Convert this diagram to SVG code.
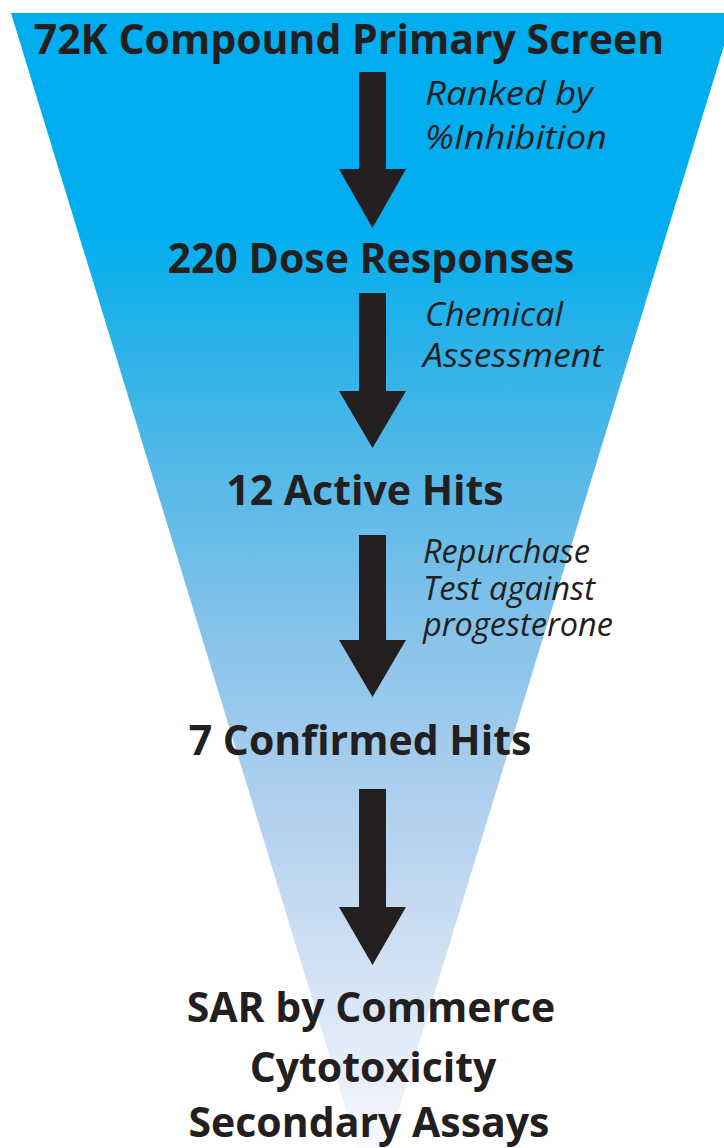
<svg xmlns="http://www.w3.org/2000/svg" width="724" height="1148" viewBox="0 0 724 1148">
<defs>
<linearGradient id="funnel" gradientUnits="userSpaceOnUse" x1="0" y1="13" x2="0" y2="1148">
<stop offset="0" stop-color="#00AEEF"/>
<stop offset="0.19" stop-color="#00AEEF"/>
<stop offset="0.297" stop-color="#2DB2E8"/>
<stop offset="0.43" stop-color="#5EBAE8"/>
<stop offset="0.56" stop-color="#8BC4EA"/>
<stop offset="0.693" stop-color="#AECFEE"/>
<stop offset="0.825" stop-color="#CEDFF3"/>
<stop offset="0.958" stop-color="#EDF2FA"/>
<stop offset="1" stop-color="#F8FAFD"/>
</linearGradient>
<style>
.main{font-family:"Open Sans","Liberation Sans",sans-serif;font-weight:700;font-size:41px;fill:#231F20;text-anchor:middle}
.note{font-family:"Open Sans","Liberation Sans",sans-serif;font-style:italic;font-size:33px;fill:#231F20}
.arrow{fill:#231F20}
</style>
</defs>
<rect width="724" height="1148" fill="#FFFFFF"/>
<polygon id="funnel-shape" points="11,13 734,13 372.5,1196" fill="url(#funnel)"/>
<g id="connectors">
<polygon class="arrow" points="359,72 386,72 386,169 406,169 372.5,228 339,169 359,169"/>
<polygon class="arrow" points="359,293 386,293 386,391 406,391 372.5,448 339,391 359,391"/>
<polygon class="arrow" points="359,535 386,535 386,640 406,640 372.5,697 339,640 359,640"/>
<polygon class="arrow" points="359,789 386,789 386,907 406,907 372.5,965 339,907 359,907"/>
</g>
<g id="node-primary"><text class="main" x="349" y="54">72K Compound Primary Screen</text></g>
<g id="label-ranked">
<text class="note" x="425" y="105" textLength="168" lengthAdjust="spacingAndGlyphs">Ranked by</text>
<text class="note" x="425" y="149" textLength="182" lengthAdjust="spacingAndGlyphs">%Inhibition</text>
</g>
<g id="node-dose"><text class="main" x="371" y="273">220 Dose Responses</text></g>
<g id="label-chemical">
<text class="note" x="425" y="326" textLength="138" lengthAdjust="spacingAndGlyphs">Chemical</text>
<text class="note" x="423" y="367" textLength="180" lengthAdjust="spacingAndGlyphs">Assessment</text>
</g>
<g id="node-active"><text class="main" x="365" y="505">12 Active Hits</text></g>
<g id="label-repurchase">
<text class="note" x="423" y="563" textLength="167" lengthAdjust="spacingAndGlyphs">Repurchase</text>
<text class="note" x="423" y="600" textLength="172" lengthAdjust="spacingAndGlyphs">Test against</text>
<text class="note" x="423" y="636" textLength="190" lengthAdjust="spacingAndGlyphs">progesterone</text>
</g>
<g id="node-confirmed"><text class="main" x="360" y="755">7 Confirmed Hits</text></g>
<g id="node-final">
<text class="main" x="371" y="1022">SAR by Commerce</text>
<text class="main" x="373" y="1082">Cytotoxicity</text>
<text class="main" x="369" y="1137">Secondary Assays</text>
</g>
</svg>
